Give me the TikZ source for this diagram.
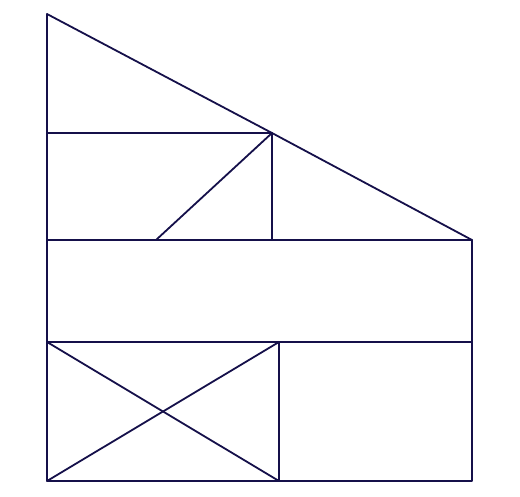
\documentclass[tikz,border=0pt]{standalone}
\definecolor{ink}{HTML}{15104A}
\begin{document}
\begin{tikzpicture}[x=1pt,y=-1pt,edge/.style={draw=ink,line width=1.8pt,line cap=round,line join=round}]
\useasboundingbox (0,0) rectangle (520,497);
\coordinate (A) at (47,14);
\coordinate (B) at (272,133);
\coordinate (C) at (472,240);
\coordinate (L1) at (47,133);
\coordinate (B2) at (272,240);
\coordinate (D) at (156,240);
\coordinate (L2) at (47,240);
\coordinate (L3) at (47,342);
\coordinate (R3) at (472,342);
\coordinate (M3) at (279,342);
\coordinate (L4) at (47,481);
\coordinate (M4) at (279,481);
\coordinate (R4) at (472,481);
\draw[edge] (L4) -- (A) -- (B) -- (C) -- (R4) -- cycle;
\draw[edge] (L1) -- (B) -- (B2);
\draw[edge] (B) -- (D);
\draw[edge] (L2) -- (C);
\draw[edge] (L3) -- (R3);
\draw[edge] (M3) -- (M4);
\draw[edge] (L3) -- (M4);
\draw[edge] (L4) -- (M3);
\end{tikzpicture}
\end{document}
